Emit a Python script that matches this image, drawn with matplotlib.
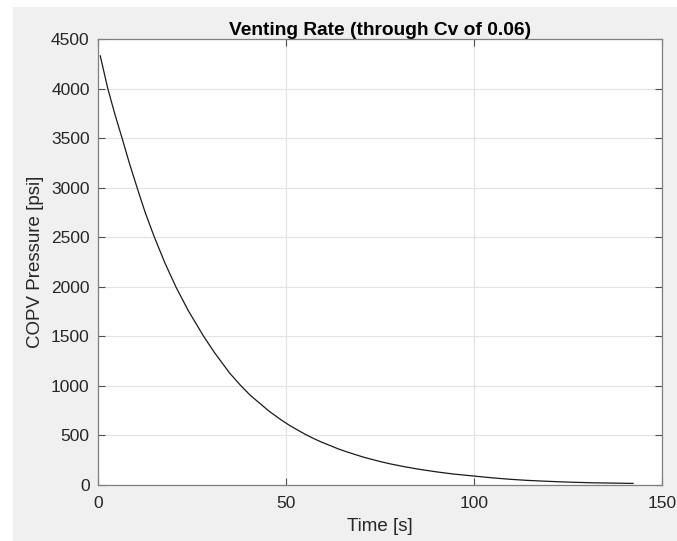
import matplotlib
matplotlib.use("Agg")
import matplotlib.pyplot as plt
from matplotlib.patches import Rectangle

time_s = [0.6, 2.6, 4.5, 6.4, 8.4, 10.4, 12.6, 15.0, 17.8, 20.7, 24.0, 28.1, 31.0,
          35.0, 37.8, 40.5, 45.5, 48.6, 51.0, 55.0, 57.3, 59.5, 64.0, 66.2, 70.5,
          75.1, 78.0, 81.3, 85.0, 90.1, 94.5, 99.0, 105.2, 109.5, 114.0, 118.5,
          123.0, 127.0, 131.8, 137.0, 142.3]
pressure_psi = [4330, 4000, 3740, 3500, 3240, 3000, 2744, 2500, 2240, 2000, 1760, 1500,
                1335, 1130, 1010, 905, 745, 660, 600, 514, 470, 432, 363, 334, 282,
                236, 211, 186, 161, 132, 111, 94, 71, 58, 47, 39,
                32, 27, 22, 19, 16]

x_ticks = [0, 50, 100, 150]
y_ticks = list(range(0, 4501, 500))

plt.rcParams['font.family'] = ['Liberation Sans', 'DejaVu Sans']

fig = plt.figure(figsize=(6.77, 5.41), dpi=100, facecolor='white')
fig.patches.append(Rectangle((13/677, 0), 1 - 13/677, 1 - 7/541,
                             transform=fig.transFigure, facecolor='#f0f0f0',
                             edgecolor='none', zorder=-10))
ax = fig.add_axes([98/677, 56/541, 564/677, 446/541])
ax.set_facecolor('white')
ax.plot(time_s, pressure_psi, color='#1a1a1a', linewidth=0.9)
ax.set_xlim(0, 150)
ax.set_ylim(0, 4500)
ax.set_xticks(x_ticks)
ax.set_yticks(y_ticks)
ax.grid(True, color='#e3e3e3', linewidth=0.8)
ax.set_axisbelow(True)
for s in ax.spines.values():
    s.set_color('#7f7f7f')
    s.set_linewidth(0.9)
ax.tick_params(direction='in', length=5, width=0.8, color='#4d4d4d',
               top=True, right=True, labelsize=12.5, labelcolor='#262626')
ax.tick_params(axis='x', pad=8)
ax.tick_params(axis='y', pad=6)
ax.set_xlabel('Time [s]', fontsize=13.5, color='#262626', labelpad=5)
ax.set_ylabel('COPV Pressure [psi]', fontsize=13.5, color='#262626', labelpad=5)
ax.set_title('Venting Rate (through Cv of 0.06)', fontsize=13.8, fontweight='bold',
             color='black', pad=3)
fig.savefig('out.png', dpi=100, facecolor=fig.get_facecolor())
